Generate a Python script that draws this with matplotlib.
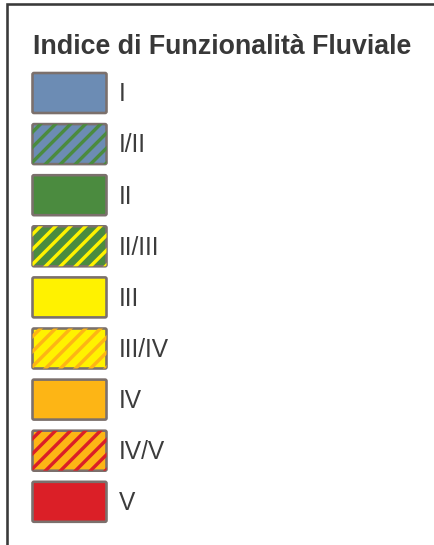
import matplotlib
matplotlib.use("Agg")
import matplotlib.pyplot as plt
from matplotlib.patches import FancyBboxPatch

title = "Indice di Funzionalità Fluviale"
labels = ["I", "I/II", "II", "II/III", "III", "III/IV", "IV", "IV/V", "V"]
base_colors = ["#6c8cb4", "#6c8cb4", "#4b8b3f", "#4b8b3f", "#fff200",
               "#fff200", "#fdb515", "#fdb515", "#db1f27"]
stripe_colors = [None, "#4b8b3f", None, "#fff200", None,
                 "#fdb515", None, "#db1f27", None]

W, H = 434, 545
DPI = 72
plt.rcParams['font.family'] = ['Liberation Sans', 'DejaVu Sans']

fig = plt.figure(figsize=(W / DPI, H / DPI), dpi=DPI)
ax = fig.add_axes([0, 0, 1, 1])
ax.set_xlim(0, W)
ax.set_ylim(H, 0)
ax.axis('off')

# frame
ax.plot([7, 7, W + 5], [H + 5, 3.5, 3.5], color="#3a3a3a", lw=2.6,
        solid_joinstyle='miter', clip_on=False)

ax.text(33, 54.5, title, fontsize=26.8, fontweight='bold', color="#383838",
        ha='left', va='baseline')

x0, sw, sh = 32.5, 74, 40
y_first, step = 73, 51.1
period = 15.0
stripe_w = 3.4
text_color = "#3c3c3c"
edge = "#7b706c"
box = "round,pad=0,rounding_size=1.5"
for i, lab in enumerate(labels):
    y = y_first + i * step
    base = FancyBboxPatch((x0, y), sw, sh, boxstyle=box,
                          facecolor=base_colors[i], edgecolor='none', lw=0)
    ax.add_patch(base)
    if stripe_colors[i] is not None:
        n = int((sw + sh) / period) + 2
        for k in range(n):
            xs = x0 + 8 + k * period
            ln, = ax.plot([xs - sh - 5, xs + 5], [y + sh + 5, y - 5],
                          color=stripe_colors[i], lw=stripe_w,
                          solid_capstyle='butt')
            ln.set_clip_path(base)
    ax.add_patch(FancyBboxPatch((x0, y), sw, sh, boxstyle=box,
                                facecolor='none', edgecolor=edge, lw=2.6))
    ax.text(119, y + sh / 2 + 8.4, lab, fontsize=24.5, color=text_color,
            ha='left', va='baseline')

fig.savefig("out.png", dpi=DPI, facecolor='white')
